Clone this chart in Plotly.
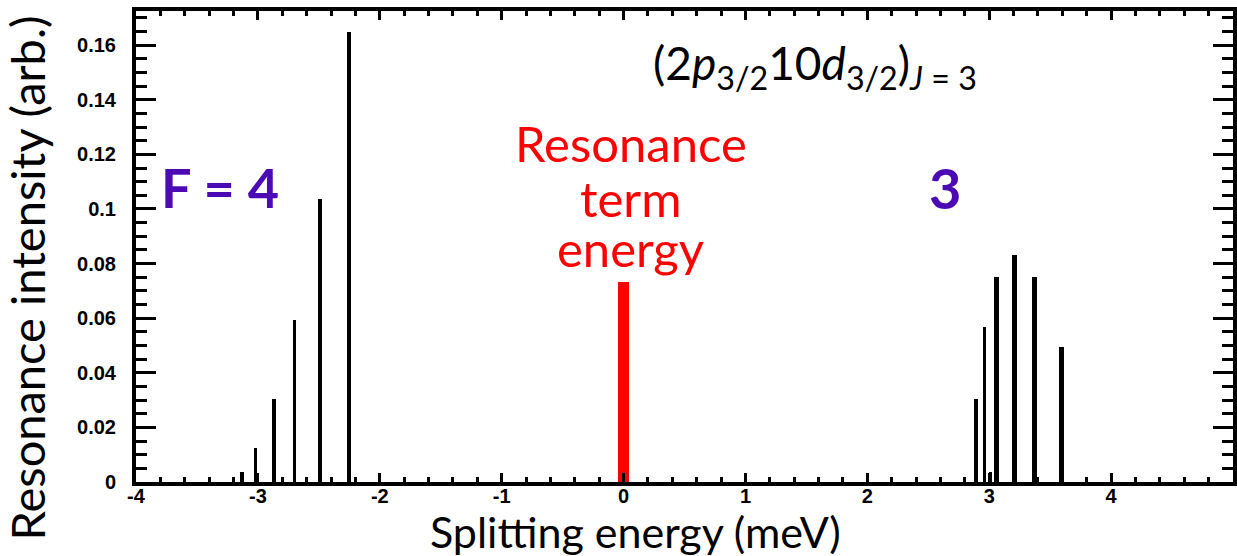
import plotly.graph_objects as go

# ---- data ----
f4_energy = [-3.13, -3.02, -2.87, -2.70, -2.49, -2.25]
f4_intensity = [0.0037, 0.0126, 0.0303, 0.0593, 0.1037, 0.1648]
f3_energy = [2.89, 2.96, 3.01, 3.06, 3.21, 3.37, 3.59]
f3_intensity = [0.0304, 0.0568, 0.0036, 0.0752, 0.0833, 0.0752, 0.0495]
term_energy = [0.0]
term_intensity = [0.0734]

xtick_vals = [-4, -3, -2, -1, 0, 1, 2, 3, 4, 5]
xtick_text = ["-4", "-3", "-2", "-1", "0", "1", "2", "3", "4", "5"]
ytick_vals = [0, 0.02, 0.04, 0.06, 0.08, 0.10, 0.12, 0.14, 0.16]
ytick_text = ["0", "0.02", "0.04", "0.06", "0.08", "0.1", "0.12", "0.14", "0.16"]

term_label_lines = ["Resonance", "term", "energy"]
x_title = "Splitting energy (meV)"
y_title = "Resonance intensity (arb.)"

# ---- styles ----
f4_widths = [0.032] * len(f4_energy)
f3_widths = [0.028, 0.028, 0.028, 0.042, 0.042, 0.042, 0.042]

fig = go.Figure()
fig.add_trace(go.Bar(x=f4_energy, y=f4_intensity, width=f4_widths,
                     marker=dict(color="black", line=dict(width=0)), showlegend=False))
fig.add_trace(go.Bar(x=f3_energy, y=f3_intensity, width=f3_widths,
                     marker=dict(color="black", line=dict(width=0)), showlegend=False))
fig.add_trace(go.Bar(x=term_energy, y=term_intensity, width=[0.09],
                     marker=dict(color="#ff0000", line=dict(width=0)), showlegend=False))

annotations = [
    dict(x=-3.31, y=0.1077, xref="x", yref="y", text="<b>F = 4</b>", showarrow=False,
         font=dict(family="Lato", size=54, color="#4b0ab4")),
    dict(x=2.64, y=0.1077, xref="x", yref="y", text="<b>3</b>", showarrow=False,
         font=dict(family="Lato", size=56, color="#4b0ab4")),
    dict(x=1.57, y=0.1525, xref="x", yref="y",
         text="(2<i>p</i><sub>3/2</sub>10<i>d</i><sub>3/2</sub>)<sub><i>J</i> = 3</sub>",
         showarrow=False, font=dict(family="Lato", size=46, color="black")),
    dict(x=0.455, y=-0.105, xref="paper", yref="paper", text=x_title, showarrow=False,
         xanchor="center", yanchor="middle", font=dict(family="Lato", size=43, color="black")),
    dict(x=-0.099, y=0.433, xref="paper", yref="paper", text=y_title, showarrow=False,
         textangle=-90, xanchor="center", yanchor="middle",
         font=dict(family="Lato", size=47, color="black")),
]
for line, ypos in zip(term_label_lines, [0.1242, 0.1040, 0.0857]):
    annotations.append(dict(x=0.06, y=ypos, xref="x", yref="y", text=line, showarrow=False,
                            font=dict(family="Lato", size=49, color="#ff0000")))

fig.update_layout(
    width=1237, height=556,
    margin=dict(l=136, r=0, t=11, b=74),
    plot_bgcolor="white", paper_bgcolor="white",
    barmode="overlay", bargap=0,
    annotations=annotations,
)
fig.update_xaxes(
    range=[-4, 5], tickmode="array", tickvals=xtick_vals,
    ticktext=["<b>%s</b>" % t for t in xtick_text],
    showgrid=False, zeroline=False,
    showline=True, linecolor="black", linewidth=4, mirror="ticks",
    ticks="inside", ticklen=9, tickwidth=3, tickcolor="black",
    minor=dict(dtick=0.2, ticks="inside", ticklen=5, tickwidth=3, tickcolor="black", showgrid=False),
    tickfont_family="Liberation Sans", tickfont_size=20, tickfont_color="black",
    ticklabelstandoff=-7,
)
fig.update_yaxes(
    range=[0, 0.1725], tickmode="array", tickvals=ytick_vals,
    ticktext=["<b>%s</b>" % t for t in ytick_text],
    showgrid=False, zeroline=False,
    showline=True, linecolor="black", linewidth=4, mirror="ticks",
    ticks="inside", ticklen=20, tickwidth=3, tickcolor="black",
    minor=dict(dtick=0.005, ticks="inside", ticklen=11, tickwidth=3, tickcolor="black", showgrid=False),
    tickfont_family="Liberation Sans", tickfont_size=20, tickfont_color="black",
    ticklabelstandoff=12,
)

fig.write_html("out.html")
